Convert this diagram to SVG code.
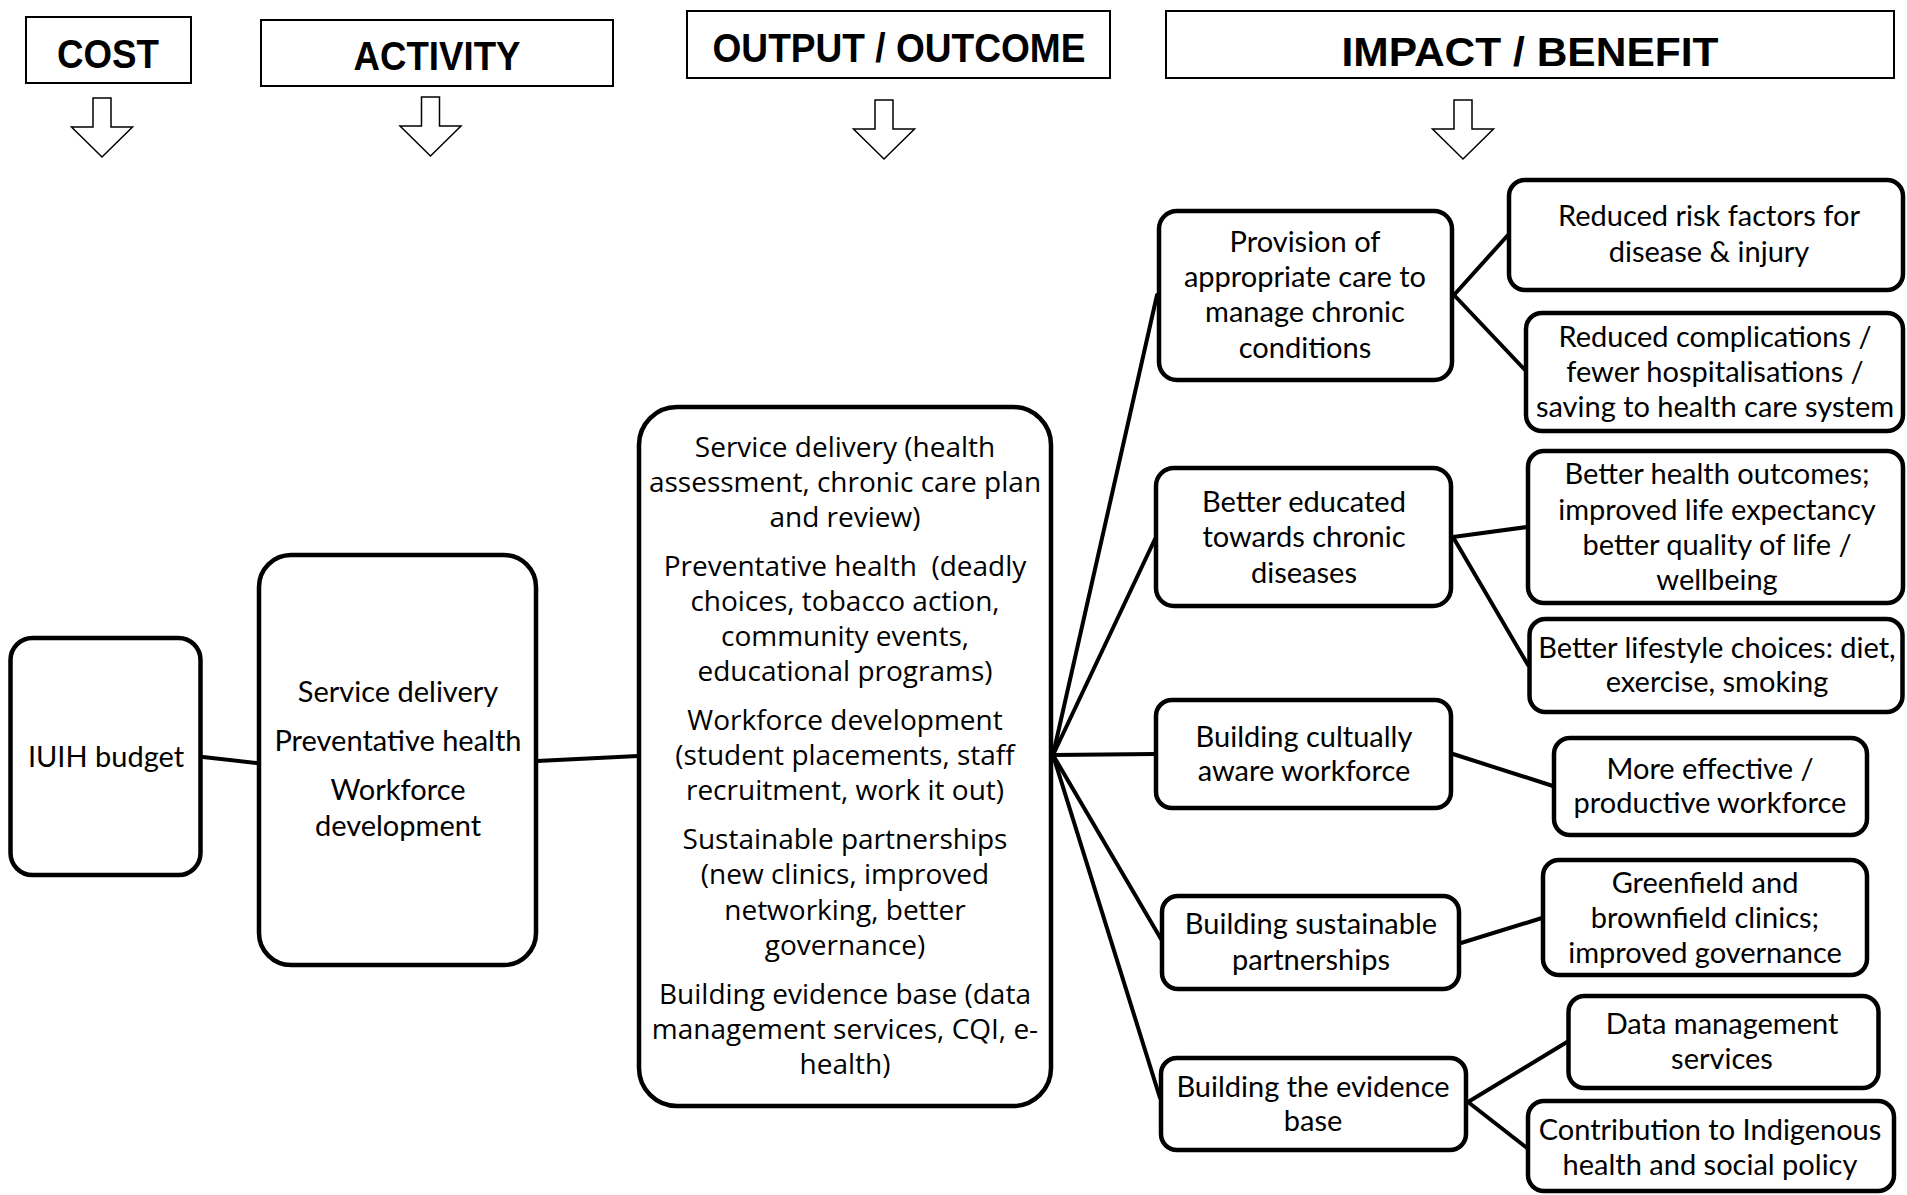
<svg xmlns="http://www.w3.org/2000/svg" width="1907" height="1195" viewBox="0 0 1907 1195">
<defs>
<style>
.hbox{fill:#fff;stroke:#000;stroke-width:2}
.htxt{font-family:"Liberation Sans",Arial,sans-serif;font-weight:bold;font-size:41px;text-anchor:middle;fill:#000}
.arr{fill:#fff;stroke:#000;stroke-width:1.5}
.node{fill:#fff;stroke:#000;stroke-width:4.5}
.t{font-family:Lato,"Liberation Sans",sans-serif;font-size:29px;text-anchor:middle;fill:#000}
.tc{font-family:"Open Sans","DejaVu Sans",sans-serif;font-size:28px;text-anchor:middle;fill:#000}
.con{stroke:#000;stroke-width:4;fill:none;stroke-linecap:round}
</style>
<path id="darrow" d="M -9 0 H 9 V 29 H 30.5 L 0 59 L -30.5 29 H -9 Z"/>
</defs>
<rect width="1907" height="1195" fill="#fff"/>

<g id="headers">
<g id="h-cost"><rect class="hbox" x="26" y="17" width="165" height="66"/><text class="htxt" x="108" y="68" textLength="102" lengthAdjust="spacingAndGlyphs">COST</text></g>
<g id="h-activity"><rect class="hbox" x="261" y="20" width="352" height="66"/><text class="htxt" x="437" y="70" textLength="167" lengthAdjust="spacingAndGlyphs">ACTIVITY</text></g>
<g id="h-output"><rect class="hbox" x="687" y="11" width="423" height="67"/><text class="htxt" x="899" y="62" textLength="373" lengthAdjust="spacingAndGlyphs">OUTPUT / OUTCOME</text></g>
<g id="h-impact"><rect class="hbox" x="1166" y="11" width="728" height="67"/><text class="htxt" x="1530" y="66" textLength="377" lengthAdjust="spacingAndGlyphs">IMPACT / BENEFIT</text></g>
</g>

<g id="arrows">
<use href="#darrow" class="arr" transform="translate(102,98)"/>
<use href="#darrow" class="arr" transform="translate(430.5,97)"/>
<use href="#darrow" class="arr" transform="translate(884,100)"/>
<use href="#darrow" class="arr" transform="translate(1463,100)"/>
</g>

<g id="connectors">
<line class="con" x1="203" y1="757" x2="257" y2="763"/>
<line class="con" x1="537" y1="761" x2="638" y2="756"/>
<line class="con" x1="1053" y1="755" x2="1157" y2="295"/>
<line class="con" x1="1053" y1="755" x2="1155" y2="539"/>
<line class="con" x1="1053" y1="755" x2="1155" y2="754"/>
<line class="con" x1="1053" y1="755" x2="1161" y2="939"/>
<line class="con" x1="1053" y1="755" x2="1160" y2="1098"/>
<line class="con" x1="1454" y1="295" x2="1508" y2="235"/>
<line class="con" x1="1454" y1="295" x2="1525" y2="370"/>
<line class="con" x1="1453" y1="537" x2="1527" y2="527"/>
<line class="con" x1="1453" y1="537" x2="1528" y2="665"/>
<line class="con" x1="1453" y1="754" x2="1553" y2="786"/>
<line class="con" x1="1461" y1="943" x2="1542" y2="918"/>
<line class="con" x1="1468" y1="1102" x2="1567" y2="1042"/>
<line class="con" x1="1468" y1="1102" x2="1527" y2="1148"/>
</g>

<g id="n-budget"><rect class="node" x="10.5" y="638" width="190" height="237" rx="22"/><text class="t" x="106" y="767">IUIH budget</text></g>

<g id="n-activity"><rect class="node" x="259" y="555" width="277" height="410" rx="32"/>
<text class="t" x="398" y="702">Service delivery</text>
<text class="t" x="398" y="751">Preventative health</text>
<text class="t" x="398" y="800">Workforce</text>
<text class="t" x="398" y="836">development</text>
</g>

<g id="n-output"><rect class="node" x="639" y="407" width="412" height="699" rx="38"/>
<text class="tc" x="845" y="457">Service delivery (health</text>
<text class="tc" x="845" y="492">assessment, chronic care plan</text>
<text class="tc" x="845" y="527">and review)</text>
<text class="tc" x="845" y="576">Preventative health&#160; (deadly</text>
<text class="tc" x="845" y="611">choices, tobacco action,</text>
<text class="tc" x="845" y="646">community events,</text>
<text class="tc" x="845" y="681">educational programs)</text>
<text class="tc" x="845" y="730">Workforce development</text>
<text class="tc" x="845" y="765">(student placements, staff</text>
<text class="tc" x="845" y="800">recruitment, work it out)</text>
<text class="tc" x="845" y="849">Sustainable partnerships</text>
<text class="tc" x="845" y="884">(new clinics, improved</text>
<text class="tc" x="845" y="920">networking, better</text>
<text class="tc" x="845" y="955">governance)</text>
<text class="tc" x="845" y="1004">Building evidence base (data</text>
<text class="tc" x="845" y="1039">management services, CQI, e-</text>
<text class="tc" x="845" y="1074">health)</text>
</g>

<g id="n-provision"><rect class="node" x="1159" y="211" width="293" height="169" rx="18"/>
<text class="t" x="1305" y="252">Provision of</text>
<text class="t" x="1305" y="287">appropriate care to</text>
<text class="t" x="1305" y="322">manage chronic</text>
<text class="t" x="1305" y="358">conditions</text>
</g>

<g id="n-educated"><rect class="node" x="1156" y="468" width="295" height="138" rx="18"/>
<text class="t" x="1304" y="512">Better educated</text>
<text class="t" x="1304" y="547">towards chronic</text>
<text class="t" x="1304" y="583">diseases</text>
</g>

<g id="n-cultural"><rect class="node" x="1156" y="700" width="295" height="108" rx="16"/>
<text class="t" x="1304" y="747">Building cultually</text>
<text class="t" x="1304" y="781">aware workforce</text>
</g>

<g id="n-partnerships"><rect class="node" x="1162" y="896" width="297" height="93" rx="16"/>
<text class="t" x="1311" y="934">Building sustainable</text>
<text class="t" x="1311" y="970">partnerships</text>
</g>

<g id="n-evidence"><rect class="node" x="1161" y="1058" width="305" height="92" rx="16"/>
<text class="t" x="1313" y="1097">Building the evidence</text>
<text class="t" x="1313" y="1131">base</text>
</g>

<g id="n-risk"><rect class="node" x="1509" y="180" width="394" height="110" rx="16"/>
<text class="t" x="1709" y="226">Reduced risk factors for</text>
<text class="t" x="1709" y="262">disease &amp; injury</text>
</g>

<g id="n-complications"><rect class="node" x="1526" y="313" width="377" height="118" rx="16"/>
<text class="t" x="1715" y="347">Reduced complications /</text>
<text class="t" x="1715" y="382">fewer hospitalisations /</text>
<text class="t" x="1715" y="417">saving to health care system</text>
</g>

<g id="n-outcomes"><rect class="node" x="1528" y="451" width="375" height="152" rx="16"/>
<text class="t" x="1717" y="484">Better health outcomes;</text>
<text class="t" x="1717" y="520">improved life expectancy</text>
<text class="t" x="1717" y="555">better quality of life /</text>
<text class="t" x="1717" y="590">wellbeing</text>
</g>

<g id="n-lifestyle"><rect class="node" x="1529.5" y="619" width="373" height="93" rx="16"/>
<text class="t" x="1717" y="658">Better lifestyle choices: diet,</text>
<text class="t" x="1717" y="692">exercise, smoking</text>
</g>

<g id="n-effective"><rect class="node" x="1554" y="738" width="313" height="97" rx="16"/>
<text class="t" x="1710" y="779">More effective /</text>
<text class="t" x="1710" y="813">productive workforce</text>
</g>

<g id="n-greenfield"><rect class="node" x="1543" y="860" width="324" height="115" rx="16"/>
<text class="t" x="1705" y="893">Greenfield and</text>
<text class="t" x="1705" y="928">brownfield clinics;</text>
<text class="t" x="1705" y="963">improved governance</text>
</g>

<g id="n-data"><rect class="node" x="1568.5" y="996" width="310" height="92" rx="16"/>
<text class="t" x="1722" y="1034">Data management</text>
<text class="t" x="1722" y="1069">services</text>
</g>

<g id="n-policy"><rect class="node" x="1528" y="1101" width="366" height="90" rx="16"/>
<text class="t" x="1710" y="1140">Contribution to Indigenous</text>
<text class="t" x="1710" y="1175">health and social policy</text>
</g>
</svg>
